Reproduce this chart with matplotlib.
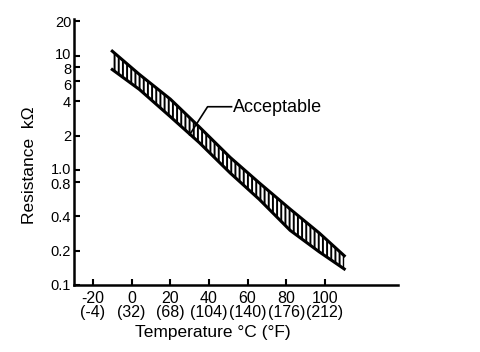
import matplotlib
matplotlib.use('Agg')
import matplotlib.pyplot as plt
from matplotlib.transforms import ScaledTranslation

# valores (temperatura em C, resistencia em kOhm)
temp = [-10, 4, 20, 35, 51, 66, 82, 97, 110]
r_sup = [11.0, 6.9, 4.2, 2.4, 1.3, 0.78, 0.46, 0.285, 0.18]
r_inf = [7.6, 5.1, 2.95, 1.75, 0.95, 0.56, 0.30, 0.195, 0.138]

xticks = [-20, 0, 20, 40, 60, 80, 100]
xlabels = ['-20\n(-4)', '0\n(32)', '20\n(68)', '40\n(104)', '60\n(140)', '80\n(176)', '100\n(212)']
yticks = [0.1, 0.2, 0.4, 0.8, 1.0, 2, 4, 6, 8, 10, 20]
ylabels = ['0.1', '0.2', '0.4', '0.8', '1.0', '2', '4', '6', '8', '10', '20']

plt.rcParams['hatch.linewidth'] = 1.4
fonte = ['Liberation Sans', 'DejaVu Sans']

fig = plt.figure(figsize=(4.8, 3.52), dpi=100)
ax = fig.add_axes([74/480, 67/352, 324/480, 266/352])

ax.fill_between(temp, r_inf, r_sup, facecolor='none', edgecolor='black', hatch='||||', linewidth=0)
ax.plot(temp, r_sup, color='black', lw=2.2)
ax.plot(temp, r_inf, color='black', lw=2.2)

ax.set_yscale('log')
ax.set_xlim(-29.8, 137.8)
ax.set_ylim(0.1, 21)

ax.set_xticks(xticks)
ax.set_xticklabels(xlabels, family=fonte, fontsize=11.5, linespacing=0.95)
ax.set_yticks(yticks)
ax.set_yticklabels(ylabels, family=fonte, fontsize=10.5)
ax.minorticks_off()
ax.tick_params(direction='in', length=4, width=1.5, pad=2)
ax.tick_params(axis='x', pad=4)

# afasta um pouco os rotulos muito proximos (10/8/6 e 1.0/0.8)
desloc = {'10': 2, '8': -1, '6': -2, '1.0': 1.5, '0.8': -1.5}
for rot in ax.get_yticklabels():
    d = desloc.get(rot.get_text(), 0)
    if d:
        rot.set_transform(rot.get_transform() + ScaledTranslation(0, d/72, fig.dpi_scale_trans))

for lado in ['top', 'right']:
    ax.spines[lado].set_visible(False)
for lado in ['left', 'bottom']:
    ax.spines[lado].set_linewidth(1.8)

# seta do rotulo "Acceptable"
ax.plot([30, 39.3, 51.7], [2.05, 3.6, 3.6], color='black', lw=1.2)
ax.text(52.5, 3.55, 'Acceptable', family=fonte, fontsize=13, va='center', ha='left')

fig.text(30/480, 1 - 165/352, 'Resistance  kΩ', family=fonte, fontsize=12.5,
         rotation=90, ha='center', va='center')
fig.text(213/480, 1 - 332/352, 'Temperature °C (°F)', family=fonte, fontsize=12.5,
         ha='center', va='center')

fig.savefig('out.png', dpi=100)
